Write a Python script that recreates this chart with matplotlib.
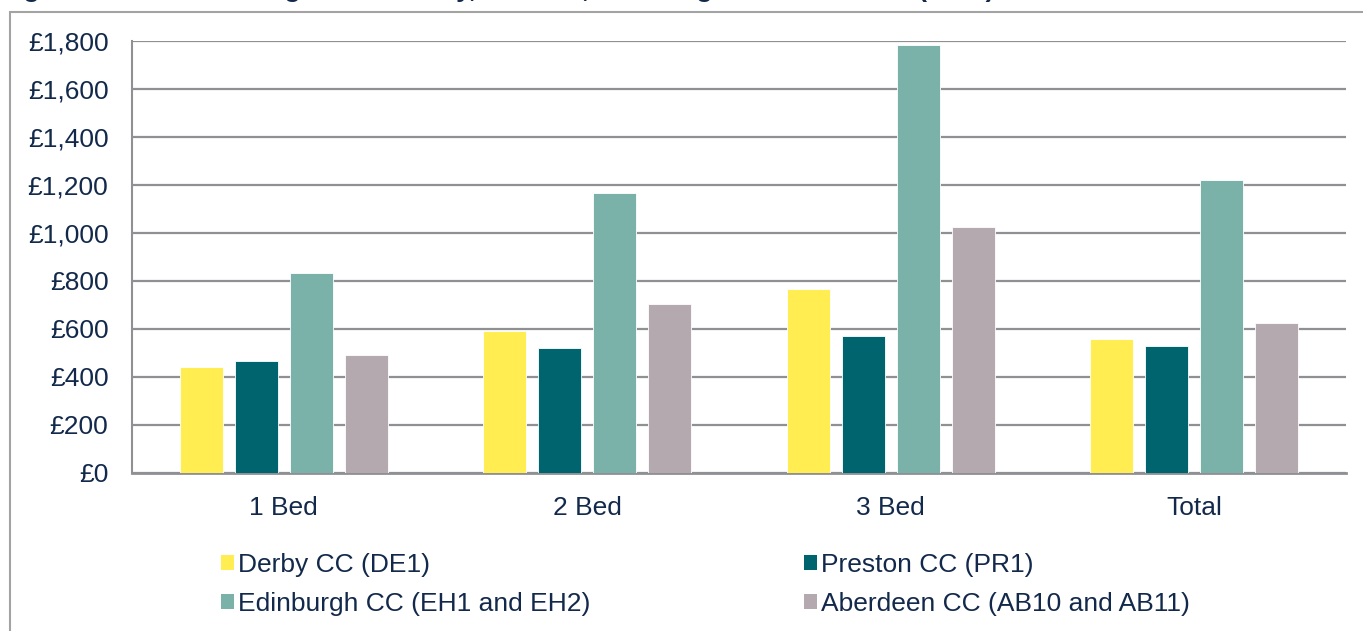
#!/usr/bin/env python
'''
plot.py: grouped bar chart of monthly rents by bedroom count
'''

import matplotlib
matplotlib.use("Agg")
import matplotlib.pyplot as plt
from matplotlib.patches import Patch, Rectangle
from matplotlib.ticker import FuncFormatter
import numpy as np

categories = ["1 Bed", "2 Bed", "3 Bed", "Total"]
series_names = ["Derby CC (DE1)", "Preston CC (PR1)",
                "Edinburgh CC (EH1 and EH2)", "Aberdeen CC (AB10 and AB11)"]
derby = [442, 590, 767, 557]
preston = [468, 520, 571, 529]
edinburgh = [835, 1167, 1783, 1221]
aberdeen = [493, 704, 1024, 625]
yticks = [0, 200, 400, 600, 800, 1000, 1200, 1400, 1600, 1800]

colors = ["#ffed52", "#00646e", "#7ab1a8", "#b4a9ae"]
textcolor = "#13294b"
gridcolor = "#8e9094"


def main():
    plt.rcParams['font.family'] = ['Liberation Sans', 'DejaVu Sans']
    fsize = 19

    fig = plt.figure(figsize=(13.63, 6.31), dpi=100)
    W, H = 1363.0, 631.0

    # outer frame of the exported figure (runs off the right and bottom)
    fig.patches.append(Rectangle((10 / W, -0.1), 1.2, 1 - 12 / H + 0.1,
                                 transform=fig.transFigure, fill=False,
                                 edgecolor="#a3a3a3", lw=1.5))

    # caption sits above the crop, only the descenders show
    fig.text(0 / W, 1 + 3.5 / H,
             "Figure 4: Median asking rent in Derby, Preston, Edinburgh and Aberdeen (2016)",
             fontsize=fsize, fontweight="bold", color=textcolor, va="baseline")

    ax = fig.add_axes([132 / W, 158 / H, 1214 / W, 432 / H])

    x = np.arange(len(categories))
    width = 0.142
    step = 0.181
    allvals = [derby, preston, edinburgh, aberdeen]
    handles = []
    for i, (vals, name, col) in enumerate(zip(allvals, series_names, colors)):
        offset = (i - 1.5) * step
        ax.bar(x + offset, vals, width, color=col, edgecolor="white",
               linewidth=0.6, zorder=3, label=name)
        handles.append(Patch(facecolor=col, label=name))

    ax.set_xlim(-0.5, len(categories) - 0.5)
    ax.set_ylim(0, 1800)
    ax.set_yticks(yticks)
    ax.yaxis.set_major_formatter(FuncFormatter(lambda v, p: "£{:,.0f}".format(v)))
    ax.set_xticks(x)
    ax.set_xticklabels(categories)

    ax.yaxis.grid(True, color=gridcolor, lw=1.6, zorder=0)
    ax.set_axisbelow(True)
    for side in ["top", "right"]:
        ax.spines[side].set_visible(False)
    ax.spines["left"].set_color(gridcolor)
    ax.spines["left"].set_linewidth(1.5)
    ax.spines["bottom"].set_color(gridcolor)
    ax.spines["bottom"].set_linewidth(2.0)

    ax.tick_params(axis="y", length=0, pad=17, labelsize=fsize, labelcolor=textcolor)
    ax.tick_params(axis="x", length=0, pad=16.5, labelsize=fsize, labelcolor=textcolor)

    # legend: two columns, filled column-wise
    order = [handles[0], handles[2], handles[1], handles[3]]
    fig.legend(handles=order, ncol=2, loc="upper left",
               bbox_to_anchor=(221 / W, 1 - 553 / H),
               frameon=False, fontsize=fsize, labelcolor=textcolor,
               handlelength=0.5, handleheight=0.5, handletextpad=0.15,
               columnspacing=8.1, labelspacing=0.57,
               borderpad=0, borderaxespad=0)

    fig.savefig("out.png", dpi=100)
    plt.close()


if __name__ == '__main__':
    main()
